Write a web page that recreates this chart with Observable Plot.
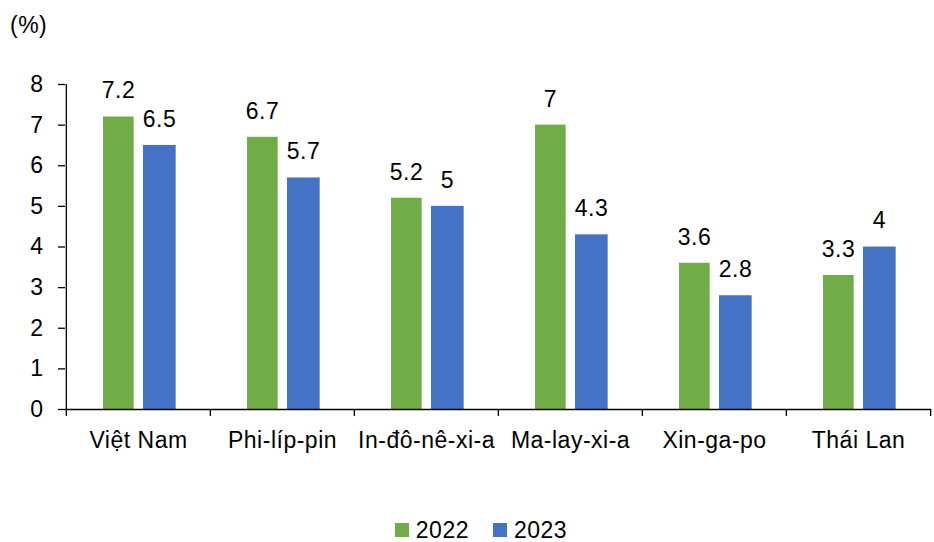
<!DOCTYPE html>
<html><head><meta charset="utf-8">
<script src="https://cdn.jsdelivr.net/npm/d3@7"></script>
<script src="https://cdn.jsdelivr.net/npm/@observablehq/plot@0.6"></script>
<style>
body{margin:0;background:#fff;font-family:"Liberation Sans",Arial,sans-serif;color:#000;overflow:hidden;}
#wrap{position:relative;width:934px;height:542px;overflow:hidden;}
#title{position:absolute;left:10px;top:12px;font-size:23px;line-height:26px;letter-spacing:0.5px;}
#chart{position:absolute;left:0;top:50px;}
#legend{position:absolute;left:28px;top:519px;width:906px;height:22px;display:flex;justify-content:center;align-items:center;font-size:23px;line-height:22px;letter-spacing:0.5px;}
.sw{display:inline-block;width:14px;height:14px;margin-right:7px;}
.item{display:flex;align-items:center;margin:0 12px;}
</style></head><body>
<div id="wrap">
<div id="title">(%)</div>
<div id="chart"></div>
<div id="legend"></div>
</div>
<script>
const countries = ["Việt Nam","Phi-líp-pin","In-đô-nê-xi-a","Ma-lay-xi-a","Xin-ga-po","Thái Lan"];
const years = ["2022","2023"];
const values2022 = [7.2, 6.7, 5.2, 7, 3.6, 3.3];
const values2023 = [6.5, 5.7, 5, 4.3, 2.8, 4];
const yTicks = [0,1,2,3,4,5,6,7,8];
const colors = ["#70AD47", "#4472C4"];

const d22 = countries.map((c,i)=>({country:c, year:years[0], value:values2022[i]}));
const d23 = countries.map((c,i)=>({country:c, year:years[1], value:values2023[i]}));

const W = 934, ML = 65, MR = 3;
const step = (W - ML - MR) / countries.length;
const fontStyle = {fontFamily:"Liberation Sans, Arial, sans-serif", fontSize:"23px", letterSpacing:"0.5px"};

const chart = Plot.plot({
  width: W, height: 440,
  marginTop: 34, marginBottom: 81, marginLeft: ML, marginRight: MR,
  style: {...fontStyle, background:"#fff", color:"#000"},
  x: {domain: countries, padding: 0, label: null},
  y: {domain: [0, 8], label: null},
  marks: [
    Plot.barY(d22, {x:"country", y:"value", fill: colors[0], insetLeft: 37, insetRight: step-68}),
    Plot.barY(d23, {x:"country", y:"value", fill: colors[1], insetLeft: 77, insetRight: step-110}),
    Plot.text(d22, {x:"country", y:"value", text: d=>String(d.value), dx:-20, dy:-26, fill:"#000", fontSize:23}),
    Plot.text(d23, {x:"country", y:"value", text: d=>String(d.value), dx:21, dy:-26, fill:"#000", fontSize:23}),
    Plot.ruleY([0], {stroke:"#000", strokeWidth:1.3}),
    Plot.ruleX([countries[0]], {dx: -step/2, stroke:"#000", strokeWidth:1.3}),
    Plot.ruleX(countries, {x: d=>d, y1: 0, y2: -0.17, dx: -step/2, stroke:"#000", strokeWidth:1.3}),
    Plot.ruleX([countries[countries.length-1]], {y1: 0, y2: -0.17, dx: step/2, stroke:"#000", strokeWidth:1.3}),
    Plot.axisY({ticks: yTicks, tickSize: 7, tickPadding: 15, tickFormat: d=>String(d), fontSize:23, stroke:"#000", strokeWidth:1.3}),
    Plot.axisX({tickSize: 0, tickPadding: 22, fontSize:23})
  ]
});
document.getElementById("chart").appendChild(chart);

const leg = document.getElementById("legend");
years.forEach((y,i)=>{
  const it = document.createElement("span"); it.className="item";
  const sw = document.createElement("span"); sw.className="sw"; sw.style.background=colors[i];
  it.appendChild(sw); it.appendChild(document.createTextNode(y));
  leg.appendChild(it);
});
</script>
</body></html>
